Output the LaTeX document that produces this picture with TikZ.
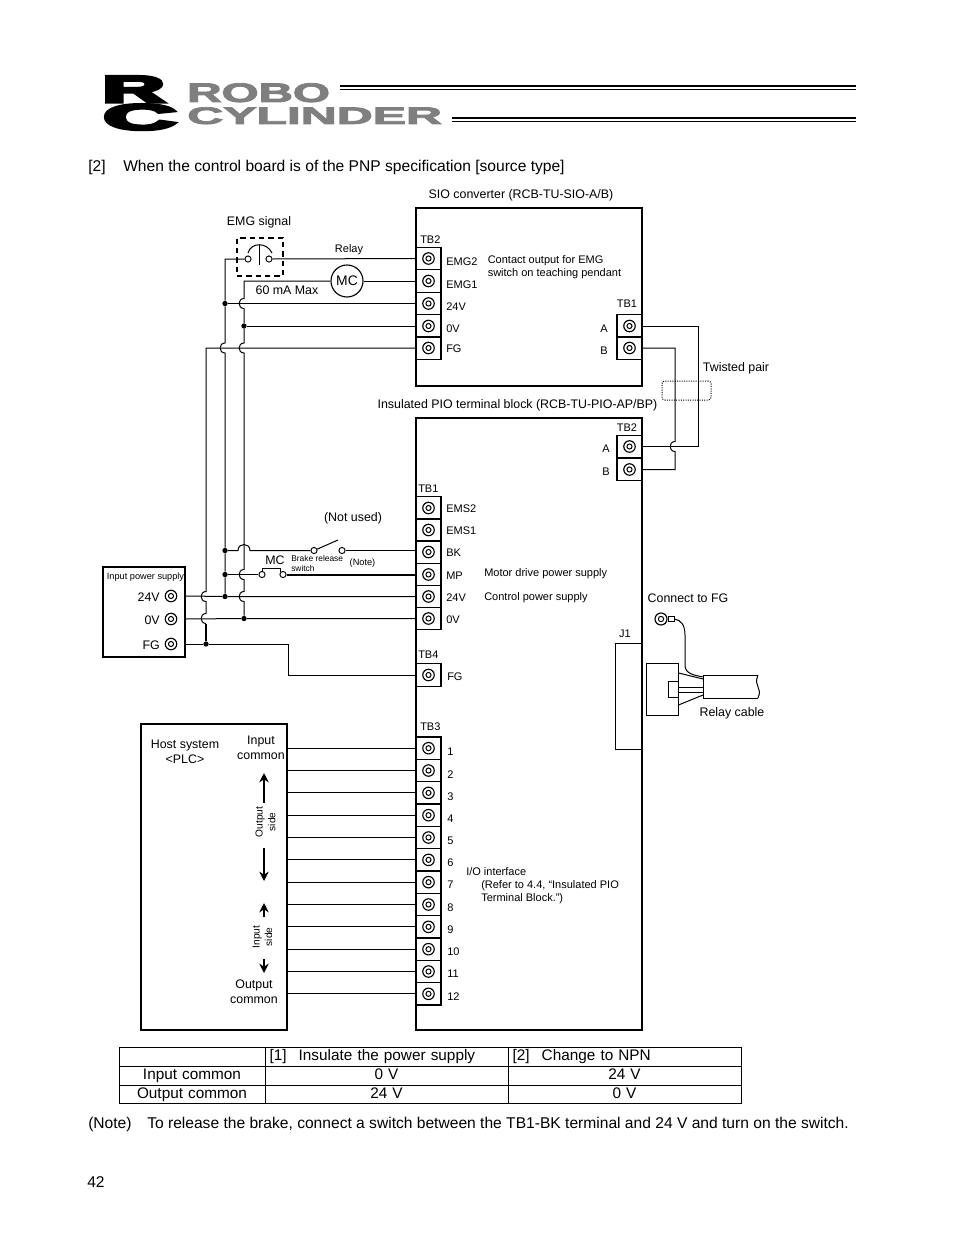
\documentclass[tikz,border=0pt]{standalone}
\usepackage{fontspec}
\usepackage{graphicx}
\setmainfont{Liberation Sans}
\newfontfamily\logofont[FakeBold=3]{Liberation Sans Bold}
\newfontfamily\rcfont[FakeBold=7]{Liberation Sans Bold}
\usetikzlibrary{arrows.meta,positioning}
\definecolor{logogray}{HTML}{7F7F7F}
\newcommand{\fsmain}{\fontsize{11.7}{14}\selectfont}
\newcommand{\fstable}{\fontsize{11.5}{14}\selectfont}
\newcommand{\fslab}{\fontsize{9.3}{11.6}\selectfont}
\newcommand{\fsterm}{\fontsize{8.25}{9.75}\selectfont}
\newcommand{\fstiny}{\fontsize{6.9}{8}\selectfont}
\newcommand{\fsmini}{\fontsize{6.3}{7}\selectfont}
% vertical wire hops left over a horizontal one
\newcommand{\hopleft}[2]{-- (#1,#2-5) .. controls (#1-6.5,#2-5) and (#1-6.5,#2+5) .. (#1,#2+5)}
% horizontal wire hops up over a vertical one
\newcommand{\hopup}[2]{-- (#1-6,#2) .. controls (#1-6,#2-8) and (#1+6,#2-8) .. (#1+6,#2)}

\begin{document}
\begin{tikzpicture}[
        x=0.75pt, y=-0.75pt,
        wire/.style={line width=0.75pt},
        wirebold/.style={line width=1.5pt},
        board/.style={rectangle, draw, line width=1.3pt, inner sep=0pt},
        cell/.style={rectangle, draw, line width=0.9pt, minimum width=18.75pt, minimum height=16.7pt, inner sep=0pt},
        ring/.style={circle, draw, line width=0.85pt, minimum size=8.6pt, inner sep=0pt},
        ringin/.style={circle, draw, line width=0.75pt, minimum size=3.8pt, inner sep=0pt},
        contact/.style={circle, draw, fill=white, line width=0.7pt, minimum size=4.6pt, inner sep=0pt},
        jdot/.style={circle, fill, minimum size=4pt, inner sep=0pt},
        lab/.style={inner sep=0pt, font=\fslab, yshift=-1pt},
        termlab/.style={inner sep=0pt, anchor=west, font=\fsterm},
        tinylab/.style={inner sep=0pt, font=\fstiny},
        tblcell/.style={rectangle, draw, line width=0.75pt, inner sep=0pt, font=\fstable, text height=8.6pt, text depth=2.2pt},
        bigarrow/.style={line width=1.2pt, -{Stealth[length=7pt,width=7pt]}}
    ]
        \useasboundingbox (0,0) rectangle (954,1235);

        % Logo
        \node [inner sep=0pt, anchor=north west] (logor) at (102,76) {\resizebox{47pt}{19.5pt}{\rcfont R}};
        \node [inner sep=0pt, anchor=north west] (logoc) at (103,104) {\resizebox{55pt}{19pt}{\rcfont C}};
        \node [inner sep=0pt, anchor=north west, text=logogray] (robo) at (187,83) {\resizebox{107pt}{14pt}{\logofont ROBO}};
        \node [inner sep=0pt, anchor=north west, text=logogray] (cylinder) at (187,107) {\resizebox{191pt}{12.5pt}{\logofont CYLINDER}};
        \coordinate (rulea) at (340,86);
        \coordinate (ruleb) at (452,118);
        \draw [line width=1.5pt] (rulea) -- (rulea -| 856,0);
        \draw [line width=0.75pt] ([yshift=-2.3pt]rulea) -- ([yshift=-2.3pt]rulea -| 856,0);
        \draw [line width=1.5pt] (ruleb) -- (ruleb -| 856,0);
        \draw [line width=0.75pt] ([yshift=-2.3pt]ruleb) -- ([yshift=-2.3pt]ruleb -| 856,0);

        % Heading and page text
        \node [inner sep=0pt, anchor=west, font=\fsmain] (heading) at (88,167) {\makebox[26.25pt][l]{[2]}When the control board is of the PNP specification [source type]};
        \node [inner sep=0pt, anchor=west, font=\fsmain] (note) at (88,1124) {\makebox[44.25pt][l]{(Note)}To release the brake, connect a switch between the TB1-BK terminal and 24 V and turn on the switch.};
        \node [inner sep=0pt, anchor=west, font=\fsmain] (pageno) at (87,1182) {42};

        % SIO converter
        \node [board, minimum width=169.5pt, minimum height=133.5pt] (sio) at (529,297) {};
        \node [lab] (siotitle) at (521,194) {SIO converter (RCB-TU-SIO-A/B)};
        \node [termlab] (siotb2) at (420,240) {TB2};
        \foreach \nm/\yy/\ly/\txt in {emgb/258.5/262/EMG2, emga/281/284.5/EMG1, siop/303.5/306.5/24V, sion/326/328.5/0V, siofg/348/348.5/FG} {
            \node [cell] (\nm) at (428.5,\yy) {};
            \node [ring] at (\nm) {};
            \node [ringin] at (\nm) {};
            \node [termlab] at (446,\ly) {\txt};
        }
        \node [tinylab, font=\fsterm, anchor=west, align=left] (emgnote) at (487.5,267) {Contact output for EMG\\switch on teaching pendant};
        \node [tinylab, font=\fsterm] (siotb1) at (627,304) {TB1};
        \foreach \nm/\yy/\txt in {sioa/326/A, siob/348/B} {
            \node [cell] (\nm) at (629.5,\yy) {};
            \node [ring] at (\nm) {};
            \node [ringin] at (\nm) {};
            \node [termlab, anchor=center] at (604,\yy+2.5) {\txt};
        }

        % PIO terminal block
        \node [board, minimum width=169.5pt, minimum height=459pt] (pio) at (529,724) {};
        \node [lab] (piotitle) at (517.5,404) {Insulated PIO terminal block (RCB-TU-PIO-AP/BP)};
        \node [tinylab, font=\fsterm] (piotb2) at (627,427.5) {TB2};
        \foreach \nm/\yy/\txt in {pioa/446.5/A, piob/469.5/B} {
            \node [cell] (\nm) at (629.5,\yy) {};
            \node [ring] at (\nm) {};
            \node [ringin] at (\nm) {};
            \node [termlab, anchor=center] at (606,\yy+2.5) {\txt};
        }
        \node [tinylab, font=\fsterm, anchor=west] (piotb1) at (418,489) {TB1};
        \foreach \nm/\yy/\txt in {ems/508/EMS2, emt/530/EMS1, bk/552/BK, mp/574.5/MP, cp/596.5/24V, cn/618.5/0V} {
            \node [cell] (\nm) at (428.5,\yy) {};
            \node [ring] at (\nm) {};
            \node [ringin] at (\nm) {};
            \node [termlab] at (446,\yy+1) {\txt};
        }
        \node [tinylab, font=\fsterm, anchor=west] (motorsup) at (484,574) {Motor drive power supply};
        \node [tinylab, font=\fsterm, anchor=west] (ctrlsup) at (484,598) {Control power supply};
        \node [tinylab, font=\fsterm, anchor=west] (piotb4) at (418,654.5) {TB4};
        \node [cell] (tbfg) at (428.5,675) {};
        \node [ring] at (tbfg) {};
        \node [ringin] at (tbfg) {};
        \node [termlab] (tbfglab) at (447,676.5) {FG};
        \node [tinylab, font=\fsterm, anchor=west] (piotb3) at (420,727) {TB3};
        \foreach \i in {1,...,12} {
            \pgfmathsetmacro{\yy}{748.2+(\i-1)*22.33}
            \pgfmathsetmacro{\ly}{752+(\i-1)*22.2}
            \node [cell] (io\i) at (428.5,\yy) {};
            \node [ring] at (io\i) {};
            \node [ringin] at (io\i) {};
            \node [termlab] at (447,\ly) {\i};
        }
        \node [inner sep=0pt, anchor=north west, align=left, font=\fsterm] (ionote) at (466,867) {I/O interface\\\hspace*{11.25pt}(Refer to 4.4, “Insulated PIO\\\hspace*{11.25pt}Terminal Block.”)};

        % J1 and relay cable
        \node [rectangle, draw, line width=0.75pt, minimum width=20pt, minimum height=79.5pt, inner sep=0pt] (jone) at (628.5,696) {};
        \node [tinylab, font=\fsterm] (jonelab) at (625,634) {J1};
        \node [lab] (fglab) at (688,596.5) {Connect to FG};
        \node [ring, minimum size=9pt] (lug) at (661,619) {};
        \node [ringin, minimum size=4pt] at (lug) {};
        \node [rectangle, draw, line width=0.6pt, minimum width=4.5pt, minimum height=3.8pt, inner sep=0pt, right=0pt of lug] (lugneck) {};
        \node [rectangle, draw, line width=0.75pt, minimum width=24pt, minimum height=39pt, inner sep=0pt] (plug) at (662,689) {};
        \node [rectangle, draw, line width=0.75pt, minimum width=7.5pt, minimum height=12pt, inner sep=0pt, anchor=east] (plugkey) at (plug.east) {};
        \draw [line width=1.3pt] (plugkey.south west) -- (plugkey.south east);
        \coordinate (cablenw) at (703,675);
        \coordinate (cablene) at (758,675);
        \coordinate (cablese) at (758,698);
        \coordinate (cablesw) at (703,698);
        \draw [wire] (cablene) -- (cablenw) -- (cablesw) -- (cablese);
        \draw [wire] (cablene) .. controls (753,687) and (763,687) .. (cablese);
        \draw [wire] (plug.east |- 0,673) -- (703,679);
        \draw [wire] (plug.east |- 0,687) -- (703,687);
        \draw [wire] (plug.east |- 0,692) -- (703,692);
        \draw [wire] (plug.east |- 0,705) -- (703,695);
        \draw [wire] (lugneck.east) .. controls (681,620) and (685,625) .. (685,635) -- (685,665) .. controls (685,674) and (694,675) .. (703,677);
        \node [lab] (cablelab) at (732,712) {Relay cable};

        % Twisted pair
        \draw [wire] (sioa.east) -- (698,326) |- (pioa.east);
        \draw [wire] (siob.east) -- (675,348) \hopleft{675}{446.5} -- (675,469.5) -- (piob.east);
        \node [rectangle, draw, densely dotted, rounded corners=2pt, line width=0.75pt, minimum width=36.75pt, minimum height=14.25pt, inner sep=0pt] (pairmark) at (686.5,390.5) {};
        \node [lab] (pairlab) at (736,367) {Twisted pair};

        % EMG switch and relay
        \node [lab] (emglab) at (259,221) {EMG signal};
        \node [rectangle, draw, line width=1.4pt, dash pattern=on 4pt off 3pt, minimum width=34.5pt, minimum height=28.5pt, inner sep=0pt] (emgbox) at (260,257) {};
        \node [contact] (emgl) at (248,259) {};
        \node [contact] (emgr) at (269,259) {};
        \draw [wire] (248,253) .. controls (251,242) and (267,242) .. (272,253);
        \draw [wire] (259,245) -- (259,265);
        \node [tinylab, font=\fsterm] (relaylab) at (349,249.5) {Relay};
        \node [circle, draw, line width=0.85pt, minimum size=24pt, inner sep=0pt, font=\fontsize{10.4}{12}\selectfont] (mc) at (347,281) {MC};
        \node [lab] (malab) at (287,289) {60 mA Max};
        \draw [wire] (emgr.east) -- (emgb.west);
        \draw [wire] (mc.east) -- (emga.west);

        % Power supply
        \node [rectangle, draw, line width=1.1pt, minimum width=61.5pt, minimum height=67.5pt, inner sep=0pt] (psu) at (144,612) {};
        \node [tinylab] (psulab) at (145.5,577) {Input power supply};
        \foreach \nm/\yy/\txt in {psp/596/24V, psn/619/0V, psf/644/FG} {
            \node [ring] (\nm) at (171,\yy) {};
            \node [ringin] at (\nm) {};
            \node [lab, anchor=east] at (160,\yy) {\txt};
        }

        % Junctions
        \node [jdot] (ja) at (225,303.5) {};
        \node [jdot] (jb) at (244,326) {};
        \node [jdot] (jc) at (225,550.5) {};
        \node [jdot] (jd) at (225,574.5) {};
        \node [jdot] (je) at (225,596.5) {};
        \node [jdot] (jf) at (244,618.5) {};
        \node [jdot] (jg) at (206,644) {};

        % Brake switch and MC contact
        \node [contact] (swl) at (314,550.5) {};
        \node [contact] (swr) at (342,550.5) {};
        \draw [wire] (swl) -- (338,540);
        \node [tinylab] (notused) at (353,518.5) {\fslab (Not used)};
        \node [tinylab, font=\fsmini, anchor=north west, align=left] (brakelab) at (291,555.5) {Brake release\\switch};
        \node [tinylab, font=\fontsize{6.9}{8}\selectfont] (notelab) at (362.5,563) {(Note)};
        \node [lab] (mclab) at (275,559) {MC};
        \node [contact] (mcl) at (262,574.5) {};
        \node [contact] (mcr) at (283,574.5) {};
        \draw [wire] (262,572) -- (262,568) -- (280,568) -- (280,572);

        % Wires to the left of the boards
        \draw [wire] (emgl.west) -| (ja) \hopleft{225}{348} -- (jc) -- (jd) -- (je);
        \draw [wire] (mc.west) -- (244,281) \hopleft{244}{303.5} -- (jb) \hopleft{244}{348} \hopleft{244}{574.5} \hopleft{244}{596.5} -- (jf);
        \draw [wire] (siofg.west) -- (206,348) \hopleft{206}{596.5} \hopleft{206}{618.5};
        \draw [wirebold] (206,623.5) -- (jg);
        \draw [wire] (ja) -- (siop.west);
        \draw [wire] (jb) -- (sion.west);
        \draw [wire] (jc) \hopup{244}{550.5} -- (swl.west);
        \draw [wire] (swr.east) -- (bk.west |- swr);
        \draw [wire] (jd) -- (mcl.west);
        \draw [wirebold] (mcr.east) -- (mp.west);
        \draw [wire] (psu.east |- psp) -- (je) -- (cp.west);
        \draw [wire] (psu.east |- psn) -- (jf) -- (cn.west);
        \draw [wire] (psu.east |- psf) -- (jg) -- (288,644) |- (tbfg.west);

        % Host system
        \node [rectangle, draw, line width=0.9pt, minimum width=109.5pt, minimum height=229.5pt, inner sep=0pt] (host) at (214,877) {};
        \node [lab, align=center] (hostlab) at (185,750.5) {Host system\\<PLC>};
        \node [lab, align=center] (incommon) at (261,746.5) {Input\\common};
        \node [lab, align=center] (outcommon) at (254,990.5) {Output\\common};
        \node [inner sep=0pt, rotate=90, align=center, font=\fontsize{7.6}{9.4}\selectfont] (outside) at (265.5,822) {Output\\side};
        \node [inner sep=0pt, rotate=90, align=center, font=\fontsize{7.6}{9.4}\selectfont] (inside) at (262.5,937) {Input\\side};
        \foreach \i in {1,...,12} {
            \draw [wire] (host.east |- io\i) -- (io\i.west);
        }
        \coordinate (outa) at (264,803);
        \coordinate (outb) at (264,773);
        \coordinate (outc) at (264,848);
        \coordinate (outd) at (264,881);
        \coordinate (ina) at (264,917);
        \coordinate (inb) at (264,903);
        \coordinate (inc) at (264,959);
        \coordinate (ind) at (264,973);
        \draw [bigarrow] (outa) -- (outb);
        \draw [bigarrow] (outc) -- (outd);
        \draw [bigarrow] (ina) -- (inb);
        \draw [bigarrow] (inc) -- (ind);

        % Table
        \foreach \nm/\xx/\yy/\ww/\hh/\al/\txt in {
            taa/192/1056.5/109.5pt/14.25pt/center/,
            tab/386.5/1056.5/182.25pt/14.25pt/left/{\hspace*{3.5pt}[1]\hspace{9pt}Insulate the power supply},
            tac/624.5/1056.5/174.75pt/14.25pt/left/{\hspace*{3.5pt}[2]\hspace{9pt}Change to NPN},
            tba/192/1075.5/109.5pt/14.25pt/center/Input common,
            tbb/386.5/1075.5/182.25pt/14.25pt/center/0 V,
            tbc/624.5/1075.5/174.75pt/14.25pt/center/24 V,
            tca/192/1094/109.5pt/13.5pt/center/Output common,
            tcb/386.5/1094/182.25pt/13.5pt/center/24 V,
            tcc/624.5/1094/174.75pt/13.5pt/center/0 V} {
            \node [tblcell, minimum width=\ww, minimum height=\hh, text width=\ww, align=\al] (\nm) at (\xx,\yy) {\txt};
        }
    \end{tikzpicture}
\end{document}
